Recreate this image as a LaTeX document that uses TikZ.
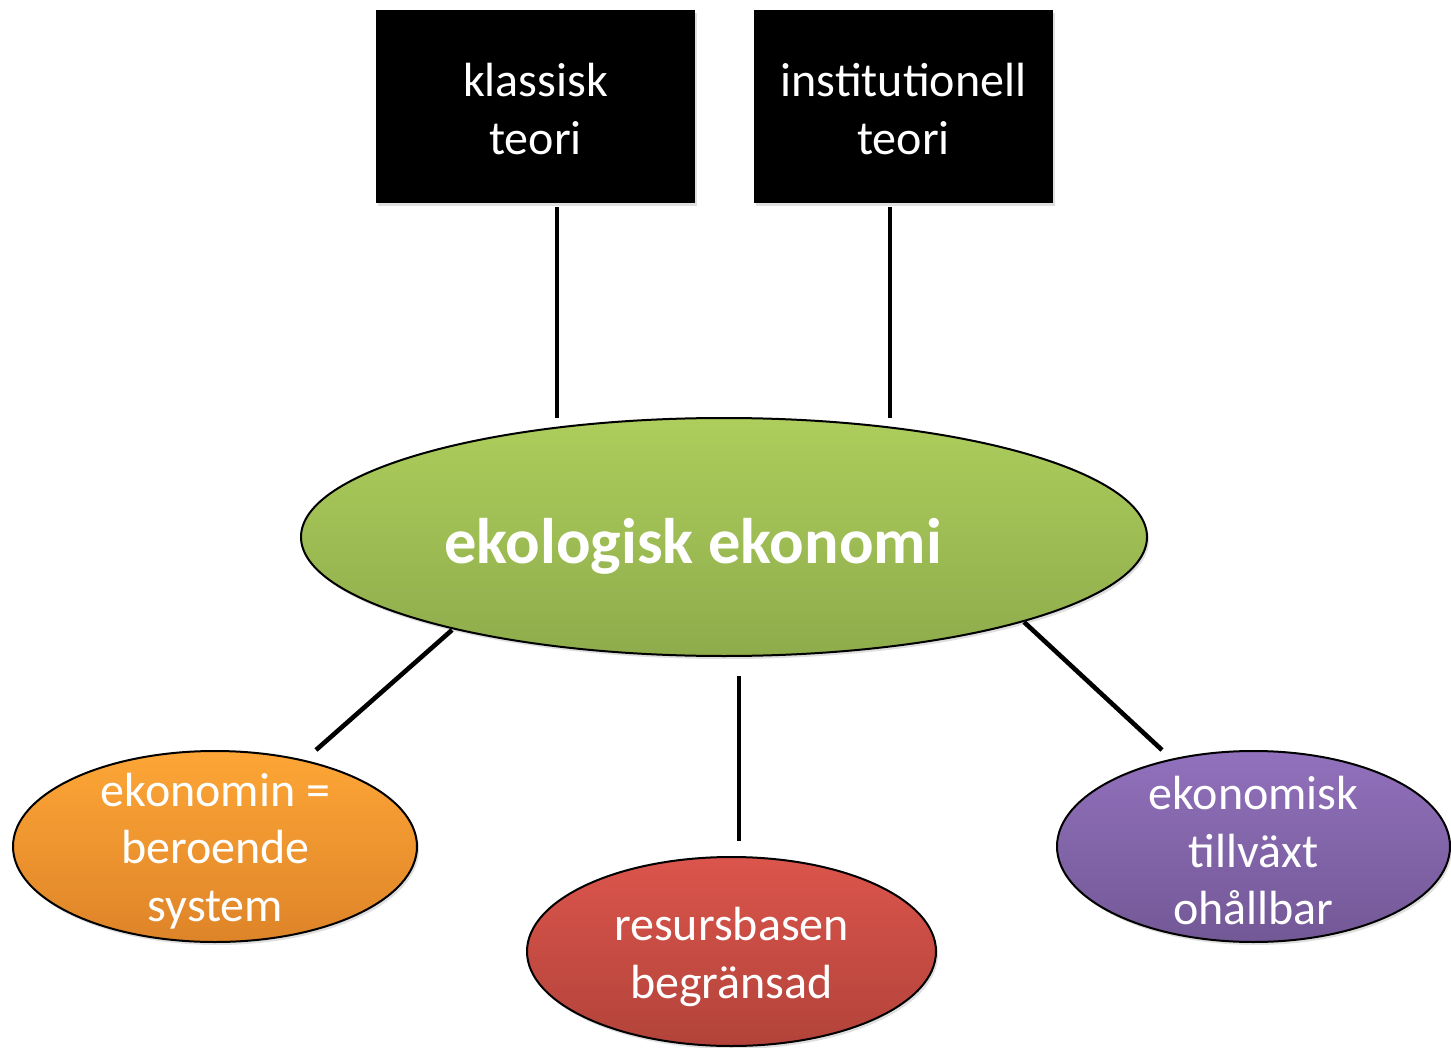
\documentclass[tikz,border=0pt]{standalone}
\usepackage{fontspec}
\setmainfont{Carlito}
\usetikzlibrary{shapes.geometric,shadows,shadings}
\definecolor{gtop}{HTML}{ADCD5C}
\definecolor{gbot}{HTML}{8EAC4B}
\definecolor{otop}{HTML}{FDA636}
\definecolor{obot}{HTML}{DE8429}
\definecolor{rtop}{HTML}{DB554C}
\definecolor{rbot}{HTML}{B2433A}
\definecolor{ptop}{HTML}{9171BC}
\definecolor{pbot}{HTML}{735896}
\begin{document}
\begin{tikzpicture}[x=0.5pt,y=-0.5pt,
  shade/.style={drop shadow={shadow xshift=1pt,shadow yshift=-1.5pt,opacity=0.25}},
  theorybox/.style={rectangle, fill=black, inner sep=0pt,
    minimum height=96.5pt, shade},
  blob/.style={ellipse, draw=black, line width=1pt, inner sep=0pt, shade},
  label/.style={text=white, align=center, inner sep=0pt,
    font=\fontsize{24}{28.75}\selectfont},
  link/.style={line width=2.3pt}]
\useasboundingbox (0,0) rectangle (1451,1048);

% theory boxes
\node[theorybox, minimum width=159.5pt] (k) at (535.5,106.5) {};
\node[label] (ktxt) at (535.5,109) {klassisk\\teori};
\node[theorybox, minimum width=149.5pt] (inst) at (903.5,106.5) {};
\node[label] (insttxt) at (903.5,109) {institutionell\\teori};

% central ellipse
\node[blob, minimum width=423pt, minimum height=119pt, top color=gtop, bottom color=gbot] (eko) at (724,537) {};
\node[label, font=\bfseries\fontsize{32.2}{38}\selectfont] (ekotxt) at (693,546) {ekologisk ekonomi};

% outer ellipses
\node[blob, minimum width=202pt, minimum height=95.5pt, top color=otop, bottom color=obot] (ber) at (215,846.5) {};
\node[label] (bertxt) at (215.5,851) {ekonomin =\\beroende\\system};
\node[blob, minimum width=204.5pt, minimum height=94.5pt, top color=rtop, bottom color=rbot] (res) at (731.5,951.5) {};
\node[label] (restxt) at (731.5,957) {resursbasen\\begränsad};
\node[blob, minimum width=196.5pt, minimum height=95.5pt, top color=ptop, bottom color=pbot] (tvx) at (1253.5,846.5) {};
\node[label] (tvxtxt) at (1253.5,851) {ekonomisk\\tillväxt\\ohållbar};

% connector end points
\coordinate (k1) at (557,207);
\coordinate (k2) at (557,418);
\coordinate (i1) at (890,207);
\coordinate (i2) at (890,418);
\coordinate (b1) at (452,630);
\coordinate (b2) at (316,750);
\coordinate (r1) at (739,676);
\coordinate (r2) at (739,841);
\coordinate (t1) at (1024,622);
\coordinate (t2) at (1162,750);

\draw[link] (k1) -- (k2);
\draw[link] (i1) -- (i2);
\draw[link] (b1) -- (b2);
\draw[link] (r1) -- (r2);
\draw[link] (t1) -- (t2);
\end{tikzpicture}
\end{document}
